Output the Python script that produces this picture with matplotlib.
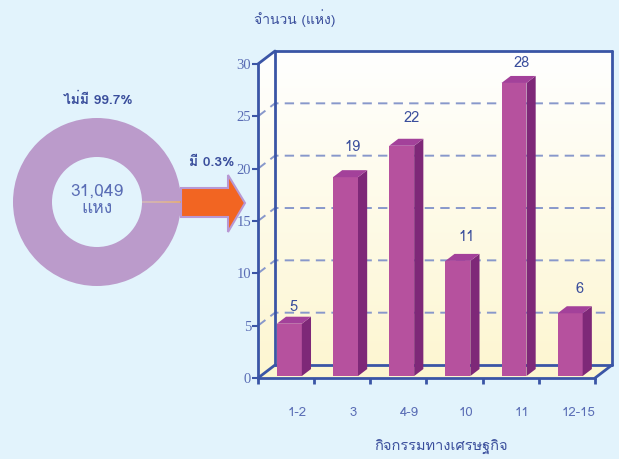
import matplotlib
matplotlib.use('Agg')
import matplotlib.pyplot as plt
import numpy as np
from matplotlib import font_manager
from matplotlib.ft2font import FT2Font
from matplotlib.patches import Polygon

# หาฟอนต์ที่มีอักษรไทย
thai_fam = None
for f in font_manager.fontManager.ttflist:
    try:
        if 0x0E01 in FT2Font(f.fname).get_charmap():
            thai_fam = f.name
            break
    except Exception:
        pass
FAM = ([thai_fam] if thai_fam else []) + ['DejaVu Sans']
plt.rcParams['font.family'] = FAM

BG = '#e2f3fc'; EDGE = '#3a55a6'; TXT = '#3a4e9c'; TICK = '#5a6db5'
FRONT = '#b6519e'; SIDE = '#7e2878'; TOP = '#a3419a'

# ── data ──────────────────────────────────────────────
categories = ['1-2', '3', '4-9', '10', '11', '12-15']
values = [5, 19, 22, 11, 28, 6]
donut_labels = ['มี 0.3%', 'ไม่มี 99.7%']
donut_share = [0.3, 99.7]
total_text = '31,049\nแห่ง'

# label offsets (points) -- as placed in the original
lab_dx = [-0.7, 1.4, 3.6, 2.9, 2.2, 3.6]
lab_dy = [9.7, 19, 17.6, 14.8, 11.9, 14.8]

fig = plt.figure(figsize=(6.19, 4.59), dpi=100, facecolor=BG)
W, H = 619, 459

# ── 3D bar chart ─────────────────────────────────────
DX, DY = 0.3027, 1.24          # depth offset (data units)
ax = fig.add_axes([258 / W, (H - 378) / H, (612 - 258) / W, (378 - 51) / H])
ax.set_facecolor('none')
n = len(categories)
ax.set_xlim(-0.5, n - 0.5 + DX)
ax.set_ylim(0, 30 + DY)
for s in ['top', 'right']:
    ax.spines[s].set_visible(False)
ax.spines['left'].set_bounds(0, 30)
ax.spines['bottom'].set_bounds(-0.5, n - 0.5)
for s in ['left', 'bottom']:
    ax.spines[s].set_color(EDGE)
    ax.spines[s].set_linewidth(2)

# walls + floor with gradient
shape = [(-0.5, 0), (-0.5, 30), (-0.5 + DX, 30 + DY), (n - 0.5 + DX, 30 + DY),
         (n - 0.5 + DX, DY), (n - 0.5, 0)]
grad = np.linspace(0, 1, 256).reshape(-1, 1)
cmap = matplotlib.colors.LinearSegmentedColormap.from_list('w', ['#fdf6d0', '#ffffff'])
im = ax.imshow(grad, cmap=cmap, origin='lower', aspect='auto',
               extent=(-0.5, n - 0.5 + DX, 0, 30 + DY), zorder=0)
clip = Polygon(shape, closed=True, transform=ax.transData, facecolor='none', edgecolor='none')
ax.add_patch(clip)
im.set_clip_path(clip)

# dashed gridlines (front axis -> back wall)
for v in [5, 10, 15, 20, 25]:
    ax.plot([-0.5, -0.5 + DX, n - 0.5 + DX], [v, v + DY, v + DY], color='#8898cb',
            lw=1.4, dashes=(4.8, 3.2), zorder=1, clip_on=False)

# frame lines
frame = [([-0.5, -0.5 + DX], [30, 30 + DY]), ([-0.5 + DX, -0.5 + DX], [DY, 30 + DY]),
         ([-0.5 + DX, n - 0.5 + DX], [30 + DY, 30 + DY]),
         ([n - 0.5 + DX, n - 0.5 + DX], [DY, 30 + DY]),
         ([-0.5 + DX, n - 0.5 + DX], [DY, DY]), ([n - 0.5, n - 0.5 + DX], [0, DY]),
         ([-0.5, -0.5 + DX], [0, DY])]
for xs, ys in frame:
    ax.plot(xs, ys, color=EDGE, lw=2, zorder=2, clip_on=False, solid_capstyle='round')

# bars
BW = 0.445
f0, f1 = 0.15, 0.69
x = np.arange(n)
xl = x - 0.21 + f0 * DX
ax.bar(xl, values, width=BW, bottom=f0 * DY, align='edge', color=FRONT, zorder=4)
ddx, ddy = (f1 - f0) * DX, (f1 - f0) * DY
for xi, v, ox, oy in zip(xl, values, lab_dx, lab_dy):
    top = v + f0 * DY
    ax.fill([xi + BW, xi + BW + ddx, xi + BW + ddx, xi + BW],
            [f0 * DY, f0 * DY + ddy, top + ddy, top], color=SIDE, lw=0, zorder=4)
    ax.fill([xi, xi + BW, xi + BW + ddx, xi + ddx], [top, top, top + ddy, top + ddy],
            color=TOP, lw=0, zorder=4)
    ax.annotate(str(v), xy=(xi + BW / 2 + ddx / 2, top + ddy / 2), xytext=(ox, oy),
                textcoords='offset points', ha='center', va='center',
                fontsize=10.5, color=TXT, zorder=5)

# ticks
ax.set_yticks(range(0, 31, 5))
ax.set_yticklabels([str(t) for t in range(0, 31, 5)])
for lbl in ax.get_yticklabels():
    lbl.set_fontfamily(['Liberation Serif', 'DejaVu Serif'])
    lbl.set_fontsize(10.5)
    lbl.set_color(TICK)
ax.tick_params(axis='y', color=EDGE, width=1.5, length=4, pad=1)
ax.set_xticks(np.arange(-0.5, n, 1.0))
ax.set_xticklabels([])
ax.tick_params(axis='x', which='major', color=EDGE, width=2, length=4.5)
ax.set_xticks(x + 0.2, minor=True)
ax.set_xticklabels(categories, minor=True, fontsize=9.5, color=TICK)
ax.tick_params(axis='x', which='minor', length=0, pad=21)

fig.text(295 / W, 1 - 18 / H, 'จำนวน (แห่ง)', ha='center', va='center', fontsize=10, color=TXT)
fig.text(441 / W, 1 - 447 / H, 'กิจกรรมทางเศรษฐกิจ', ha='center', va='center',
         fontsize=10.5, color=TXT)

# ── donut ─────────────────────────────────────────────
R = 84
ax2 = fig.add_axes([(97 - R) / W, (H - 202 - R) / H, 2 * R / W, 2 * R / H])
ax2.pie(donut_share, colors=['#f0a040', '#bb9bcb'], startangle=-donut_share[0] * 1.8,
        radius=1, wedgeprops=dict(width=(84 - 45) / 84, edgecolor='none'))
ax2.set_aspect('equal')
ax2.set_xlim(-1, 1); ax2.set_ylim(-1, 1)
ax2.text(0, 0.02, total_text, ha='center', va='center', fontsize=12.5, color=TICK,
         linespacing=1.0)
fig.text(98 / W, 1 - 100 / H, donut_labels[1], ha='center', va='center', fontsize=10,
         fontweight='bold', color=TXT)
fig.text(212 / W, 1 - 163 / H, donut_labels[0], ha='center', va='center', fontsize=10,
         fontweight='bold', color=TXT)

# arrow
ov = fig.add_axes([0, 0, 1, 1], zorder=-1)
ov.set_xlim(0, W); ov.set_ylim(H, 0); ov.axis('off')
ov.add_patch(Polygon([(181, 188), (228, 188), (228, 175), (245, 203), (228, 232),
                      (228, 217), (181, 217)], closed=True, facecolor='#f26522',
                     edgecolor='#b898d4', lw=1.5))

fig.savefig('out.png', dpi=100, facecolor=BG)
